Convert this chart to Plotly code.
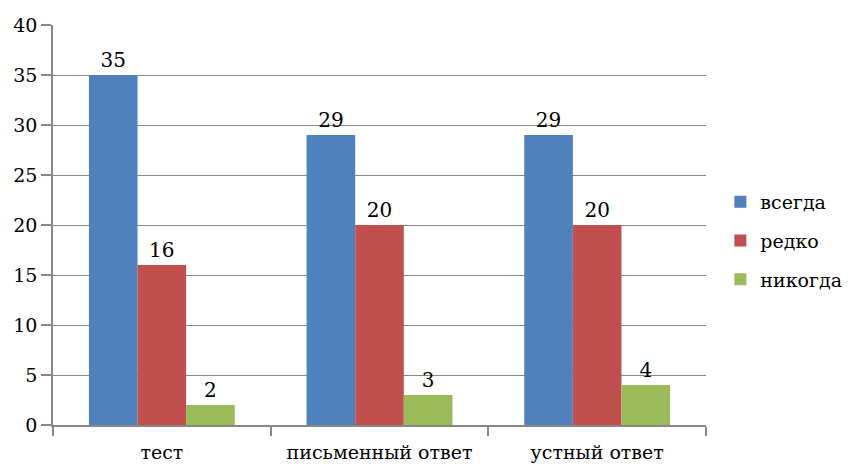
import plotly.graph_objects as go

categories = ["тест", "письменный ответ", "устный ответ"]
series_names = ["всегда", "редко", "никогда"]
always = [35, 29, 29]
rarely = [16, 20, 20]
never = [2, 3, 4]
colors = ["#4F81BD", "#C0504D", "#9BBB59"]
y_ticks = [0, 5, 10, 15, 20, 25, 30, 35, 40]

FONT = "DejaVu Serif"
GRID = "#878787"

fig = go.Figure()
for name, vals, col in zip(series_names, [always, rarely, never], colors):
    fig.add_trace(go.Bar(
        x=categories, y=vals, name=name, legendgroup=name,
        marker=dict(color=col, line=dict(width=0)),
        text=[str(v) for v in vals], textposition="outside",
        textfont=dict(family=FONT, size=20, color="#000000"),
        cliponaxis=False,
    ))

fig.update_layout(
    width=853, height=469,
    margin=dict(l=53, r=147, t=25, b=44, autoexpand=False),
    paper_bgcolor="white", plot_bgcolor="white",
    barmode="group", bargap=0.33, bargroupgap=0,
    font=dict(family=FONT, size=18, color="#000000"),
    legend=dict(x=1.022, y=0.46, xanchor="left", yanchor="middle",
                font=dict(family=FONT, size=19), tracegroupgap=11,
                itemwidth=30, bgcolor="rgba(0,0,0,0)"),
    xaxis=dict(showline=True, linecolor=GRID, linewidth=1.5,
               ticks="outside", tickson="boundaries", ticklen=9,
               tickcolor=GRID, tickwidth=1.5, showgrid=False,
               ticklabelstandoff=9, automargin=False, tickangle=0,
               tickfont=dict(family=FONT, size=19)),
    yaxis=dict(range=[0, 40], tickvals=y_ticks, showline=True,
               linecolor=GRID, linewidth=1.5, ticks="outside", ticklen=10,
               tickcolor=GRID, tickwidth=1.5, showgrid=True, gridcolor=GRID,
               gridwidth=1, zeroline=False, automargin=False,
               tickfont=dict(family=FONT, size=19)),
)

fig.write_html("out.html")
